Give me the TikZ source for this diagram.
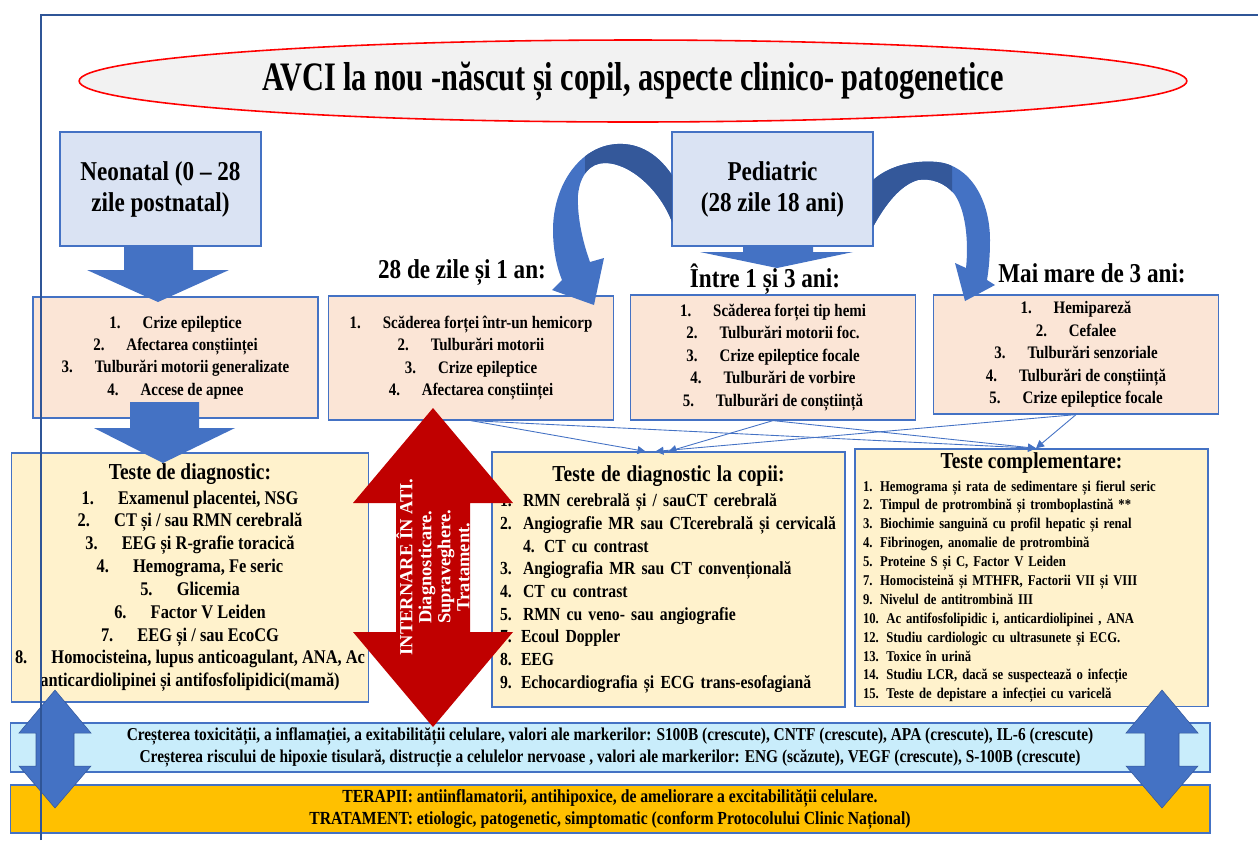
\documentclass[tikz,border=0pt]{standalone}
\usepackage{fontspec}
\setmainfont{Liberation Serif}[FakeStretch=0.85]
\newfontfamily\narrowfont{Liberation Serif}[FakeStretch=0.75]
\newfontfamily\wideserif{Liberation Serif}
\usepackage{xcolor}
\usepackage{tikz}
\usetikzlibrary{positioning,arrows.meta,shapes.geometric,calc}

\definecolor{bluebox}{HTML}{4472C4}
\definecolor{bluedark}{HTML}{34589A}
\definecolor{framecol}{HTML}{2F5597}
\definecolor{titlefill}{HTML}{F2F2F2}
\definecolor{agefill}{HTML}{DAE3F3}
\definecolor{symfill}{HTML}{FBE5D6}
\definecolor{testfill}{HTML}{FFF2CC}
\definecolor{barblue}{HTML}{C9EDFB}
\definecolor{barorange}{HTML}{FFC000}
\definecolor{redarrow}{HTML}{C00000}

\newcommand{\itemnr}[1]{#1.\hspace{1.25em}}

\begin{document}
\begin{tikzpicture}[
  x=0.02cm, y=-0.02cm,
  box/.style={draw=bluebox, line width=0.7pt, align=center, inner sep=2pt},
  agebox/.style={box, fill=agefill, minimum width=4.02cm, minimum height=2.28cm,
                 font=\bfseries\fontsize{15.5}{17.6}\selectfont},
  symbox/.style={box, fill=symfill, minimum width=5.7cm,
                 font=\bfseries\fontsize{10}{12.8}\selectfont},
  testbox/.style={box, fill=testfill, minimum width=7.06cm},
  bar/.style={box, minimum width=24cm},
  age/.style={font=\bfseries\fontsize{15.5}{18}\selectfont, inner sep=1pt},
  blk/.style={fill=bluebox, draw=bluedark, line width=0.3pt},
  thin/.style={draw=bluebox, line width=0.5pt, -{Triangle[length=1.6mm,width=1.6mm]}},
  frame/.style={draw=framecol, line width=1pt},
]
\useasboundingbox (0,0) rectangle (1258,840);

% ====== title ======
\node[ellipse, draw=red, line width=0.9pt, fill=titlefill, minimum width=22.16cm,
      minimum height=1.64cm, inner sep=0pt,
      font=\narrowfont\bfseries\fontsize{23}{27}\selectfont] (title) at (633,81)
  {AVCI la nou -născut și copil, aspecte clinico- patogenetice};

% ====== age groups ======
\node[agebox] (neo) at (160.5,189) {Neonatal (0 -- 28\\zile postnatal)};
\node[agebox] (ped) at (772.5,189) {Pediatric\\(28 zile 18 ani)};

\node[age] (lab1) at (462,273) {28 de zile și 1 an:};
\node[age] (lab2) at (765,279) {Între 1 și 3 ani:};
\node[age] (lab3) at (1092,273) {Mai mare de 3 ani:};

% ====== symptoms ======
\node[symbox, minimum height=2.42cm] (sym1) at (175.5,357.5)
  {\itemnr{1}Crize epileptice\\\itemnr{2}Afectarea conștiinței\\
   \itemnr{3}Tulburări motorii generalizate\\\itemnr{4}Accese de apnee};
\node[symbox, minimum height=2.48cm] (sym2) at (471,358)
  {\itemnr{1}Scăderea forței într-un hemicorp\\\itemnr{2}Tulburări motorii\\
   \itemnr{3}Crize epileptice\\\itemnr{4}Afectarea conștiinței};
\node[symbox, minimum height=2.5cm] (sym3) at (773,357.5)
  {\itemnr{1}Scăderea forței tip hemi\\\itemnr{2}Tulburări motorii foc.\\
   \itemnr{3}Crize epileptice focale\\\itemnr{4}Tulburări de vorbire\\
   \itemnr{5}Tulburări de conștiință};
\node[symbox, minimum height=2.38cm] (sym4) at (1076,354.5)
  {\itemnr{1}Hemipareză\\\itemnr{2}Cefalee\\\itemnr{3}Tulburări senzoriale\\
   \itemnr{4}Tulburări de conștiință\\\itemnr{5}Crize epileptice focale};

% ====== tests ======
\node[testbox, minimum width=7.12cm, minimum height=4.98cm,
      font=\bfseries\fontsize{11}{13}\selectfont] (diag) at (190,577.5)
  {{\fontsize{13}{15}\selectfont Teste de diagnostic:}\\[1.2pt]
   \itemnr{1}Examenul placentei, NSG\\\itemnr{2}CT și / sau RMN cerebrală\\
   \itemnr{3}EEG și R-grafie toracică\\\itemnr{4}Hemograma, Fe seric\\
   \itemnr{5}Glicemia\\\itemnr{6}Factor V Leiden\\\itemnr{7}EEG și / sau EcoCG\\
   \itemnr{8}Homocisteina, lupus anticoagulant, ANA, Ac\\
   anticardiolipinei și antifosfolipidici(mamă)};
\node[testbox, minimum height=5.1cm, text width=6.74cm, align=left, inner xsep=0.16cm,
      font=\bfseries\fontsize{10.5}{12.9}\selectfont] (copii) at (668.5,579.5)
  {\makebox[\linewidth]{\fontsize{13}{15}\selectfont Teste de diagnostic la copii:}\\[1.3pt]
   \makebox[0.46cm][l]{1.}RMN cerebrală și / sauCT cerebrală\\
   \makebox[0.46cm][l]{2.}Angiografie MR sau CTcerebrală și cervicală\\
   \hspace*{0.46cm}4. CT cu contrast\\
   \makebox[0.46cm][l]{3.}Angiografia MR sau CT convențională\\
   \makebox[0.46cm][l]{4.}CT cu contrast\\
   \makebox[0.46cm][l]{5.}RMN cu veno- sau angiografie\\
   7. Ecoul Doppler\\
   8. EEG\\
   9. Echocardiografia și ECG trans-esofagiană};
\node[testbox, minimum height=5.1cm, text width=6.74cm, align=left, inner xsep=0.16cm,
      font=\bfseries\fontsize{8.5}{10.75}\selectfont] (compl) at (1031.5,577.5)
  {\makebox[\linewidth]{\fontsize{13}{15}\selectfont Teste complementare:}\\[2.2pt]
   1. Hemograma  și rata de sedimentare  și fierul seric\\
   2. Timpul  de protrombină  și tromboplastină  **\\
   3. Biochimie  sanguină  cu profil hepatic și renal\\
   4. Fibrinogen,  anomalie  de protrombină\\
   5. Proteine S și C, Factor V Leiden\\
   7. Homocisteină  și MTHFR, Factorii VII și VIII\\
   9. Nivelul de antitrombină  III\\
   10. Ac antifosfolipidic i, anticardiolipinei  , ANA\\
   12. Studiu  cardiologic  cu ultrasunete  și ECG.\\
   13. Toxice  în urină\\
   14. Studiu  LCR, dacă se suspectează  o infecție\\
   15. Teste de  depistare  a infecției cu varicelă};

% ====== markers / therapy ======
\node[bar, fill=barblue, minimum height=0.98cm,
      font=\bfseries\fontsize{10.3}{12.5}\selectfont] (mark) at (610,747.5)
  {Creșterea toxicității, a inflamației, a exitabilității celulare, valori ale markerilor: S100B (crescute), CNTF (crescute), APA (crescute), IL-6 (crescute)\\
   Creșterea riscului de hipoxie tisulară, distrucție a celulelor nervoase , valori ale markerilor: ENG (scăzute), VEGF (crescute), S-100B (crescute)};
\node[bar, fill=barorange, minimum height=0.96cm,
      font=\bfseries\fontsize{10.5}{12.5}\selectfont] (ther) at (610,809)
  {TERAPII: antiinflamatorii, antihipoxice, de ameliorare a excitabilității celulare.\\
   TRATAMENT: etiologic, patogenetic, simptomatic (conform Protocolului Clinic Național)};

% ====== thin connectors ======
\draw[thin] (sym2.south) -- ([xshift=-0.46cm]copii.north);
\draw[thin] (sym4.south) -- ([xshift=-0.26cm]copii.north);
\draw[thin] (sym3.south) -- (copii.north);
\draw[thin] (sym2.south) -- ([xshift=0.09cm]compl.north);
\draw[thin] (sym3.south) -- ([xshift=0.09cm]compl.north);
\draw[thin] (sym4.south) -- ([xshift=0.09cm]compl.north);

% ====== block arrows ======
\fill[bluebox] (124,246) -- (193,246) -- (193,270) -- (229,270) -- (158,302)
  -- (87,270) -- (124,270) -- cycle;
\fill[bluebox] (130,402) -- (199,402) -- (199,428) -- (235,428) -- (163,463)
  -- (94,428) -- (130,428) -- cycle;
\fill[bluebox] (743,246) -- (813,246) -- (813,252) -- (853,252) -- (777,268)
  -- (700,252) -- (743,252) -- cycle;

% curved arrows out of the pediatric box
\def\leftcurve{(672,175) .. controls (655,150) and (635,143) .. (617,144)
  .. controls (580,146) and (553,185) .. (553,230)
  .. controls (553,250) and (557,268) .. (562,280) -- (552,290) -- (594,305)
  -- (604,258) -- (590,262) .. controls (582,240) and (577,215) .. (578,195)
  .. controls (580,175) and (590,163) .. (605,163)
  .. controls (630,163) and (660,190) .. (672,222) -- cycle}
\def\rightcurve{(873,180) .. controls (890,165) and (915,160) .. (937,162)
  .. controls (970,165) and (990,200) .. (990,240)
  .. controls (990,255) and (989,268) .. (987,280) -- (995,285) -- (965,301)
  -- (955,263) -- (966,268) .. controls (968,250) and (968,215) .. (955,195)
  .. controls (945,182) and (930,178) .. (918,180)
  .. controls (900,185) and (885,205) .. (873,227) -- cycle}
\fill[bluebox] \leftcurve;
\fill[bluebox] \rightcurve;
\begin{scope}
  \clip (585,100) rectangle (672,240);
  \fill[bluedark] \leftcurve;
\end{scope}
\begin{scope}
  \clip (873,100) rectangle (952,240);
  \fill[bluedark] \rightcurve;
\end{scope}

% double arrows
\fill[redarrow] (433,408) -- (513,503) -- (470,503) -- (470,632) -- (513,632)
  -- (433,727) -- (353,632) -- (396,632) -- (396,503) -- (353,503) -- cycle;
\node[rotate=90, text=white, align=center, inner sep=0pt,
      font=\wideserif\bfseries\fontsize{10.5}{10.8}\selectfont] (ati) at (433,567)
  {INTERNARE ÎN ATI.\\Diagnosticare.\\Supraveghere.\\Tratament.};

\filldraw[blk] (55,690) -- (91,733) -- (74,733) -- (74,766) -- (91,766) -- (55,808)
  -- (19,766) -- (36,766) -- (36,733) -- (19,733) -- cycle;
\filldraw[blk] (1162,690) -- (1198,733) -- (1179,733) -- (1179,766) -- (1198,766)
  -- (1162,808) -- (1126,766) -- (1145,766) -- (1145,733) -- (1126,733) -- cycle;

% frame
\draw[frame] (41,840) -- (41,15) -- (1258,15);

\end{tikzpicture}
\end{document}
